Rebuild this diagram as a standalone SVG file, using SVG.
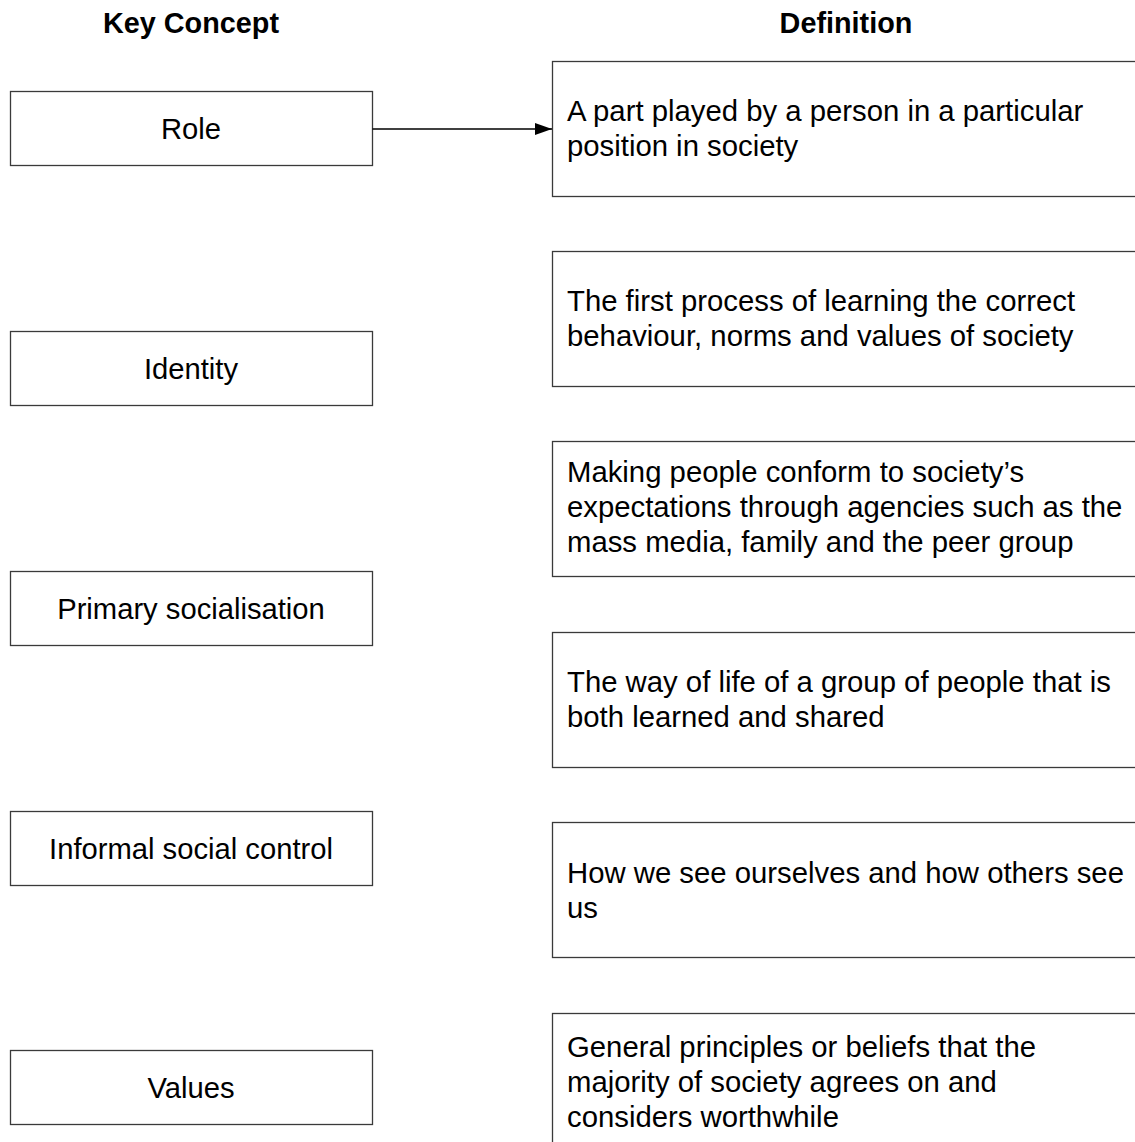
<svg xmlns="http://www.w3.org/2000/svg" width="1135" height="1142" viewBox="0 0 1135 1142">
<style>
  .box { fill: #ffffff; stroke: #3a3a3a; stroke-width: 1.3; }
  .hdr { font-family: "Liberation Sans", Arial, sans-serif; font-weight: bold; font-size: 28.8px; fill: #000; text-anchor: middle; }
  .lbl { font-family: "Liberation Sans", Arial, sans-serif; font-size: 29.2px; fill: #000; text-anchor: middle; }
  .def { font-family: "Liberation Sans", Arial, sans-serif; font-size: 29.3px; fill: #000; }
  .conn { stroke: #000; stroke-width: 1.5; fill: none; }
</style>
<defs>
  <marker id="arrow" markerWidth="17" markerHeight="12" refX="17" refY="6" orient="auto" markerUnits="userSpaceOnUse">
    <path d="M0,0 L17,6 L0,12 Z" fill="#000"/>
  </marker>
</defs>
<rect width="1135" height="1142" fill="#ffffff"/>
<g id="headers">
  <text class="hdr" x="191" y="33">Key Concept</text>
  <text class="hdr" x="846" y="33">Definition</text>
</g>
<g id="concept-role">
  <rect class="box" x="10.5" y="91.5" width="362" height="74"/>
  <text class="lbl" x="191" y="139">Role</text>
</g>
<g id="concept-identity">
  <rect class="box" x="10.5" y="331.5" width="362" height="74"/>
  <text class="lbl" x="191" y="379">Identity</text>
</g>
<g id="concept-primary">
  <rect class="box" x="10.5" y="571.5" width="362" height="74"/>
  <text class="lbl" x="191" y="619">Primary socialisation</text>
</g>
<g id="concept-informal">
  <rect class="box" x="10.5" y="811.5" width="362" height="74"/>
  <text class="lbl" x="191" y="859">Informal social control</text>
</g>
<g id="concept-values">
  <rect class="box" x="10.5" y="1050.5" width="362" height="74"/>
  <text class="lbl" x="191" y="1098">Values</text>
</g>
<g id="def-1">
  <rect class="box" x="552.5" y="61.5" width="700" height="135"/>
  <text class="def" x="567" y="121">A part played by a person in a particular</text>
  <text class="def" x="567" y="156">position in society</text>
</g>
<g id="def-2">
  <rect class="box" x="552.5" y="251.5" width="700" height="135"/>
  <text class="def" x="567" y="311">The first process of learning the correct</text>
  <text class="def" x="567" y="346">behaviour, norms and values of society</text>
</g>
<g id="def-3">
  <rect class="box" x="552.5" y="441.5" width="700" height="135"/>
  <text class="def" x="567" y="482">Making people conform to society’s</text>
  <text class="def" x="567" y="517">expectations through agencies such as the</text>
  <text class="def" x="567" y="552">mass media, family and the peer group</text>
</g>
<g id="def-4">
  <rect class="box" x="552.5" y="632.5" width="700" height="135"/>
  <text class="def" x="567" y="692">The way of life of a group of people that is</text>
  <text class="def" x="567" y="727">both learned and shared</text>
</g>
<g id="def-5">
  <rect class="box" x="552.5" y="822.5" width="700" height="135"/>
  <text class="def" x="567" y="883">How we see ourselves and how others see</text>
  <text class="def" x="567" y="918">us</text>
</g>
<g id="def-6">
  <rect class="box" x="552.5" y="1013.5" width="700" height="140"/>
  <text class="def" x="567" y="1057">General principles or beliefs that the</text>
  <text class="def" x="567" y="1092">majority of society agrees on and</text>
  <text class="def" x="567" y="1127">considers worthwhile</text>
</g>
<g id="connectors">
  <line class="conn" x1="372.5" y1="129" x2="552" y2="129" marker-end="url(#arrow)"/>
</g>
</svg>
